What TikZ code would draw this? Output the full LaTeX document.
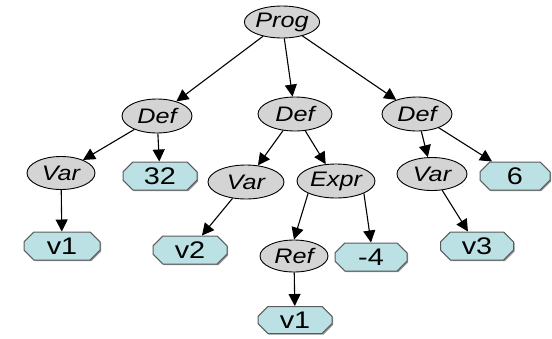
\documentclass[tikz,border=0pt]{standalone}
\usepackage{fontspec}
\usetikzlibrary{shapes.geometric,shapes.misc,arrows.meta,shadows}
\newfontfamily\lblfont[FakeStretch=1.2]{Liberation Sans}
\definecolor{ovalfill}{HTML}{D4D4D4}
\definecolor{leaffill}{HTML}{BBE1E4}
\definecolor{leafedge}{HTML}{5A5A5A}
\tikzset{
  oval/.style={ellipse, draw=black, line width=0.9pt, fill=ovalfill,
    inner sep=0pt, font=\lblfont\itshape\fontsize{21}{21}\selectfont},
  leaf/.style={chamfered rectangle, chamfered rectangle xsep=7pt,
    draw=leafedge, line width=1pt, fill=leaffill, inner sep=0pt,
    minimum height=28pt, font=\lblfont\fontsize{24}{24}\selectfont,
    drop shadow={shadow xshift=1.2pt, shadow yshift=-1.2pt, fill=black!40, opacity=1}},
  edge/.style={draw=black, line width=1.1pt, -{Triangle[length=12pt,width=12pt]}}
}
\begin{document}
\begin{tikzpicture}[x=1pt,y=-1pt]
\useasboundingbox (0,0) rectangle (552,338);
% inner nodes
\node[oval, minimum width=74pt, minimum height=32pt] (prog) at (282,22) {Prog};
\node[oval, minimum width=70pt, minimum height=34pt] (defA) at (157,116) {Def};
\node[oval, minimum width=74pt, minimum height=34pt] (defB) at (295,114) {Def};
\node[oval, minimum width=70pt, minimum height=34pt] (defC) at (417,114) {Def};
\node[oval, minimum width=68pt, minimum height=33pt] (varA) at (61,173) {Var};
\node[oval, minimum width=76pt, minimum height=34pt] (varB) at (246,182) {Var};
\node[oval, minimum width=78pt, minimum height=34pt] (expr) at (336,181) {Expr};
\node[oval, minimum width=70pt, minimum height=33pt] (varC) at (432,174) {Var};
\node[oval, minimum width=68pt, minimum height=32pt] (ref)  at (294,256) {Ref};
% leaves
\node[leaf, minimum width=74pt] (n32) at (160,176) {32};
\node[leaf, minimum width=70pt] (n6)  at (515,176) {6};
\node[leaf, minimum width=76pt] (v1a) at (62,246) {v1};
\node[leaf, minimum width=74pt] (v2)  at (190,250) {v2};
\node[leaf, minimum width=72pt] (m4)  at (371,257) {-4};
\node[leaf, minimum width=73pt] (v3)  at (477,246) {v3};
\node[leaf, minimum width=74pt, minimum height=27pt] (v1b) at (295,320) {v1};
% connectors
\draw[edge] (prog) -- (defA);
\draw[edge] (prog) -- (defB);
\draw[edge] (prog) -- (defC);
\draw[edge] (defA) -- (varA);
\draw[edge] (defA) -- (n32);
\draw[edge] (varA) -- (v1a);
\draw[edge] (defB) -- (varB);
\draw[edge] (defB) -- (expr);
\draw[edge] (varB) -- (v2);
\draw[edge] (expr.south west) -- (ref.north);
\draw[edge] (expr.south east) -- (m4.north);
\draw[edge] (ref) -- (v1b);
\draw[edge] (defC) -- (varC);
\draw[edge] (defC) -- (n6);
\draw[edge] (varC) -- (v3);
\end{tikzpicture}
\end{document}
